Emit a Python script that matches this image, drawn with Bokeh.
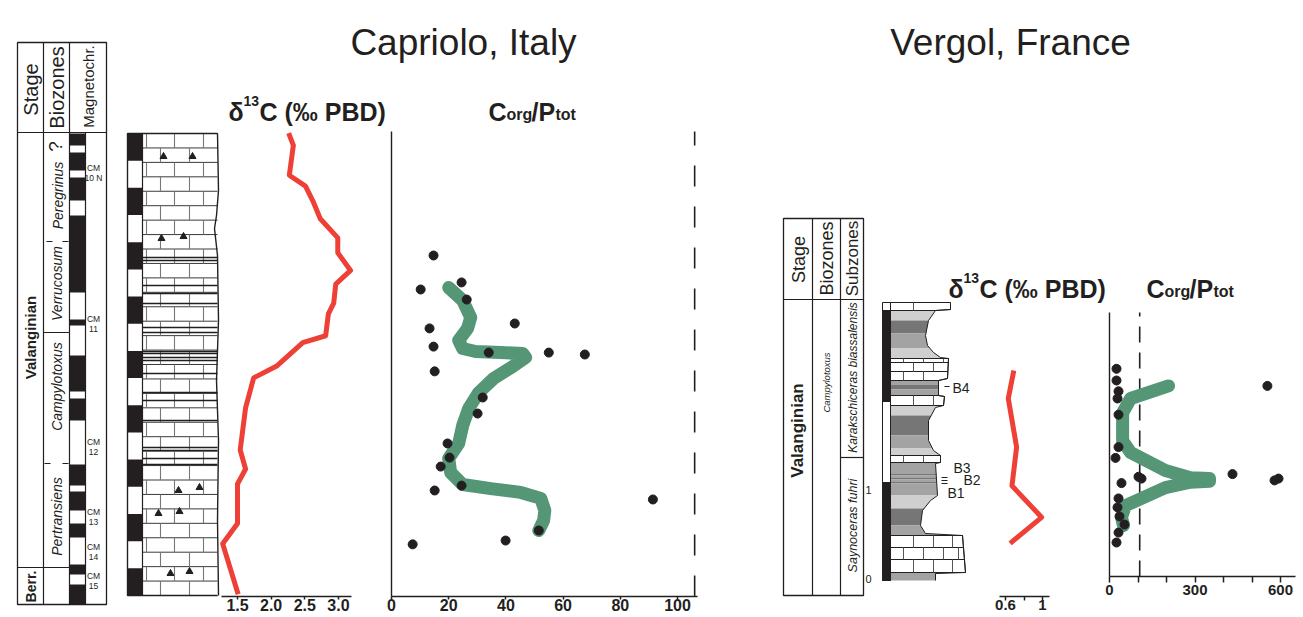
import numpy as np
from bokeh.plotting import figure
from bokeh.models import Range1d, LinearAxis, FixedTicker, CustomJSTickFormatter, NumeralTickFormatter
from bokeh.core.properties import value
from bokeh.embed import file_html
from bokeh.resources import INLINE

# ---------------- data ----------------
# Capriolo (Italy): height above base of section (m)
cap_d13c_height = [17.0, 16.55, 15.45, 15.05, 14.45, 13.85, 13.15, 12.6, 11.95, 11.45, 10.75,
                   10.35, 9.55, 9.3, 8.45, 8.0, 6.9, 5.35, 4.65, 4.1, 2.65, 1.9, 0.05]
cap_d13c = [2.26, 2.33, 2.27, 2.51, 2.63, 2.73, 2.99, 2.99, 3.18, 2.96, 2.93,
            2.85, 2.81, 2.47, 2.09, 1.74, 1.62, 1.54, 1.62, 1.50, 1.50, 1.28, 1.51]

cap_cp_height = [12.5, 11.51, 11.25, 10.88, 10.0, 9.82, 9.15, 8.93, 8.93, 8.86, 8.24,
                 7.28, 6.69, 5.59, 5.07, 4.74, 4.04, 3.86, 3.53, 2.39, 2.02, 1.88]
cap_cp = [14.7, 24.5, 10.2, 26.3, 43.1, 13.3, 14.7, 34.0, 55.0, 67.6, 15.1,
          31.9, 30.1, 19.6, 20.3, 17.2, 24.5, 15.1, 91.4, 51.5, 39.9, 7.4]

cap_trend_height = [11.32, 10.85, 10.22, 9.82, 9.38, 9.08, 8.97, 8.93, 8.90, 8.75, 8.42, 7.98,
                    7.46, 6.88, 6.25, 5.59, 5.04, 4.52, 4.08, 3.93, 3.79, 3.57, 3.13, 2.76, 2.39]
cap_trend = [20.0, 24.9, 27.7, 26.6, 23.5, 24.9, 29.4, 38.2, 45.9, 46.9, 42.4, 35.7,
             30.5, 27.0, 24.9, 23.5, 20.0, 20.7, 24.9, 34.7, 45.2, 52.2, 53.6, 53.2, 51.5]

# Vergol (France): height above base of section (m)
ver_d13c_height = [2.31, 2.0, 1.46, 1.03, 0.68, 0.39]
ver_d13c = [0.69, 0.63, 0.72, 0.67, 0.99, 0.65]

ver_cp_height = [2.33, 2.2, 2.14, 2.08, 2.0, 1.82, 1.46, 1.34, 1.16, 1.13, 1.11, 1.11, 1.09,
                 1.06, 0.89, 0.79, 0.69, 0.6, 0.51, 0.4]
ver_cp = [24.6, 24.6, 554, 31.6, 28.1, 31.6, 31.6, 21.1, 431.6, 101.8, 112.3, 593, 579,
          42.1, 31.6, 28.1, 35.1, 52.6, 31.6, 24.6]

ver_trend_height = [2.14, 2.0, 1.84, 1.53, 1.4, 1.2, 1.12, 1.11, 1.08, 1.07, 1.01, 0.81, 0.68, 0.59]
ver_trend = [207, 74, 46, 46, 74, 196, 284, 351, 351, 284, 196, 56, 42, 49]

redfield = 106

cap_d13c_ticks = [1.5, 2.0, 2.5, 3.0]
cap_cp_ticks = [0, 20, 40, 60, 80, 100]
ver_d13c_ticks = [0.6, 1.0]
ver_d13c_minor = [0.8]
ver_cp_ticks = [0, 300, 600]
ver_cp_minor = [100, 200, 400, 500]

# ---------------- figure ----------------
W, H = 1303, 617
OX, OY = 0, 0
INK = "#231f20"
RED = "#ee4036"
GREEN = "#549676"
FONT = value("Liberation Sans")

p = figure(width=W, height=H, x_range=Range1d(OX, OX + W), y_range=Range1d(OY + H, OY),
           x_axis_type=None, y_axis_type=None, output_backend="svg",
           toolbar_location=None, min_border=0, title=None)
p.outline_line_color = None


def xr(px0, v0, k):
    return Range1d(v0 + (OX - px0) / k, v0 + (OX + W - px0) / k)


def yr(py0, k):
    return Range1d((py0 - (OY + H)) / k, (py0 - OY) / k)


CAP_X0, CAP_Y0, CAP_K = 391, 595, 27.2
p.extra_x_ranges = {
    "cap_d": xr(237, 1.5, 67.3),
    "cap_c": xr(391, 0, 2.86),
    "ver_d": xr(1005, 0.6, 92.5),
    "ver_c": xr(1109, 0, 0.285),
}
p.extra_y_ranges = {"cap_h": yr(595, 27.2), "ver_h": yr(578, 90.0)}


def txt(x, y, s, size, style="normal", align="center", baseline="middle", angle=0.0):
    p.text(x=[x], y=[y], text=[s], text_font=FONT, text_font_size=f"{size}px",
           text_font_style=style, text_align=align, text_baseline=baseline,
           angle=angle, text_color=INK)


def seg(x0, y0, x1, y1, w=1.2, color=INK, dash="solid"):
    p.segment(x0=x0, y0=y0, x1=x1, y1=y1, line_color=color, line_width=w, line_dash=dash)


ROT = np.pi / 2

# ---------------- titles ----------------
txt(463, 42, "Capriolo, Italy", 37, baseline="alphabetic")
txt(1010, 42, "Vergol, France", 37, baseline="alphabetic")


def d13c_title(x, y):
    txt(x, y, "δ", 25, "bold", "left", "alphabetic")
    txt(x + 15, y - 11, "13", 14, "bold", "left", "alphabetic")
    txt(x + 31, y, "C (‰ PBD)", 25, "bold", "left", "alphabetic")


def cp_title(x, y):
    txt(x, y, "C", 25, "bold", "left", "alphabetic")
    txt(x + 18, y + 3, "org", 16, "bold", "left", "alphabetic")
    txt(x + 43, y, "/P", 25, "bold", "left", "alphabetic")
    txt(x + 67, y + 3, "tot", 16, "bold", "left", "alphabetic")


d13c_title(228, 111)
cp_title(488, 111)
d13c_title(948, 288)
cp_title(1146, 288)

# ---------------- Capriolo stratigraphic table ----------------
p.quad(left=[17], right=[106], top=[42], bottom=[604], fill_color=None, line_color=INK, line_width=1.3)
seg([43, 69, 85], [42, 42, 132], [43, 69, 85], [604, 604, 604])
seg([17, 17, 43], [132, 567, 332], [106, 69, 69], [132, 567, 332])
seg([46, 62, 44, 62], [241, 241, 463, 463], [52, 68, 50, 68], [241, 241, 463, 463])
mag_top = [133, 152, 177, 215, 319, 355, 398, 464, 491, 523, 564, 584]
mag_bot = [145, 170, 200, 292, 325, 391, 420, 485, 510, 537, 574, 604]
p.quad(left=69, right=85, top=mag_top, bottom=mag_bot, fill_color=INK, line_color=None)

txt(30, 89, "Stage", 20, angle=ROT)
txt(56, 87, "Biozones", 20, angle=ROT)
txt(88, 86, "Magnetochr.", 15, angle=ROT)
txt(30, 337, "Valanginian", 15, "bold", angle=ROT)
txt(30, 586, "Berr.", 14, "bold", angle=ROT)
txt(55, 146, "?", 19, angle=ROT)
txt(57, 195, "Peregrinus", 14, "italic", angle=ROT)
txt(56, 283, "Verrucosum", 14, "italic", angle=ROT)
txt(56, 386, "Campylotoxus", 14, "italic", angle=ROT)
txt(56, 516, "Pertransiens", 14, "italic", angle=ROT)
for (yy, a, b) in [(167, "CM", "10 N"), (318, "CM", "11"), (441, "CM", "12"),
                   (511, "CM", "13"), (546, "CM", "14"), (575, "CM", "15")]:
    txt(93, yy, a, 8.5)
    txt(93, yy + 10, b, 8.5)

# ---------------- Capriolo lithology ----------------
LT, LB = 133, 595
edges = np.linspace(LT, LB, 18)
p.quad(left=127, right=142, top=edges[:-1][::2], bottom=edges[1:][::2], fill_color=INK, line_color=None)
rows = np.linspace(LT, LB, 33)
seg([142] * 33, rows, [217] * 33, rows, w=1.0, color="#3a3a3a")
vx0, vy0, vy1 = [], [], []
for i in range(32):
    for xx in ([146, 174, 203] if i % 2 == 0 else [160, 189]):
        vx0.append(xx); vy0.append(rows[i]); vy1.append(rows[i + 1])
seg(vx0, vy0, vx0, vy1, w=1.1, color="#777777")
marl = [257, 260, 285, 293, 303, 327, 332, 351, 353, 357, 360, 373, 392, 400, 420, 447, 450, 458, 464]
seg([142] * len(marl), marl, [217] * len(marl), marl, w=1.6, color=INK)
tri_x = [163, 192, 161, 183, 178, 199, 158, 179, 170, 189]
tri_y = [156, 156, 238, 236, 490, 487, 513, 511, 573, 571]
p.scatter(tri_x, tri_y, marker="triangle", size=7, color=INK)
p.line([217, 127, 127, 217], [LT, LT, LB, LB], line_color=INK, line_width=1.4)
p.line([142, 142], [LT, LB], line_color=INK, line_width=1.2)
p.line([217, 218, 216, 214, 217, 218, 216, 218, 217, 218],
       [LT, 190, 215, 228, 255, 320, 380, 440, 520, LB], line_color=INK, line_width=1.4)

# ---------------- Capriolo d13C ----------------
p.line(cap_d13c, cap_d13c_height, x_range_name="cap_d", y_range_name="cap_h",
       line_color=RED, line_width=5, line_join="round")

# ---------------- Capriolo Corg/Ptot ----------------
ctop, cbot = (CAP_Y0 - 131) / CAP_K, (CAP_Y0 - 596) / CAP_K
p.segment(x0=[0], y0=[cbot], x1=[0], y1=[ctop], x_range_name="cap_c", y_range_name="cap_h",
          line_color=INK, line_width=1.4)
p.segment(x0=[redfield], y0=[cbot], x1=[redfield], y1=[ctop], x_range_name="cap_c",
          y_range_name="cap_h", line_color=INK, line_width=1.6, line_dash="21 20")
p.line(cap_trend, cap_trend_height, x_range_name="cap_c", y_range_name="cap_h",
       line_color=GREEN, line_width=13, line_join="round", line_cap="round")
p.scatter(cap_cp, cap_cp_height, x_range_name="cap_c", y_range_name="cap_h",
          size=9, color=INK)

# ---------------- Vergol stratigraphic table ----------------
p.quad(left=[783], right=[863], top=[218], bottom=[595], fill_color=None, line_color=INK, line_width=1.3)
seg([812, 840, 783, 840], [218, 218, 299, 457], [812, 840, 863, 863], [595, 595, 299, 457])
txt(798, 259, "Stage", 18, angle=ROT)
txt(826, 258, "Biozones", 18, angle=ROT)
txt(852, 258, "Subzones", 17, angle=ROT)
txt(797, 430, "Valanginian", 17, "bold", angle=ROT)
txt(826, 382, "Campylotoxus", 9.5, "italic", angle=ROT)
txt(852, 377, "Karakschiceras biassalensis", 12, "italic", angle=ROT)
txt(852, 525, "Saynoceras fuhri", 12.5, "italic", angle=ROT)
txt(868, 489, "1", 11)
txt(868, 578, "0", 11)

# ---------------- Vergol lithology ----------------
prof_y = np.array([302, 309, 310, 320, 335, 345, 352, 357, 358, 378, 380, 395, 396, 405, 407,
                   420, 440, 450, 455, 462, 463, 495, 500, 510, 525, 533, 535, 572, 573, 580])
prof_x = np.array([950, 950, 935, 928, 925, 927, 933, 940, 948, 947, 938, 938, 944, 943, 935,
                   928, 928, 933, 940, 940, 935, 937, 930, 922, 920, 925, 962, 965, 935, 935])
L, M, D = "#cfcfcf", "#a3a3a3", "#767676"
marl_bands = [(310, 320, L), (320, 333, D), (333, 348, M), (348, 358, L), (380, 384, M), (384, 389, D),
              (389, 395, M), (405, 415, L), (415, 435, D), (435, 448, M), (448, 455, L), (462, 473, M),
              (473, 475, D), (475, 477, M), (477, 479, D), (479, 481, M), (481, 483, D), (483, 495, M),
              (495, 508, L), (508, 525, D), (525, 535, M), (572, 580, M)]
beds = [(302, 310), (358, 362), (362, 371), (371, 380), (395, 405), (455, 462), (535, 547),
        (547, 559), (559, 572)]


def band_poly(t, b):
    ys = [t] + [float(y) for y in prof_y if t < y < b] + [b]
    xs = [float(v) for v in np.interp(ys, prof_y, prof_x)]
    return [890] + xs + [890], [t] + ys + [b]


bx, by, bc = [], [], []
for (t, b, c) in marl_bands:
    xs, ys = band_poly(t, b)
    bx.append(xs); by.append(ys); bc.append(c)
p.patches(bx, by, fill_color=bc, line_color=None)
lx, ly = [], []
for (t, b) in beds:
    xs, ys = band_poly(t, b)
    lx.append(xs); ly.append(ys)
p.patches(lx, ly, fill_color="white", line_color=INK, line_width=1.0)
bvx, bvy0, bvy1 = [], [], []
for j, (t, b) in enumerate(beds):
    lim = min(np.interp(t, prof_y, prof_x), np.interp(b, prof_y, prof_x)) - 3
    for xx in ([903, 923, 943, 958] if j % 2 else [913, 933, 952]):
        if xx < lim:
            bvx.append(xx); bvy0.append(t); bvy1.append(b)
seg(bvx, bvy0, bvx, bvy1, w=1.0, color="#555555")
p.line(list(prof_x), list(prof_y), line_color=INK, line_width=1.0)
p.quad(left=882, right=890, top=[302, 401], bottom=[580, 482], fill_color="white", line_color=INK,
       line_width=1.0)
p.quad(left=882, right=890, top=[310, 482], bottom=[401, 580], fill_color=INK, line_color=INK)
seg([890], [302], [890], [580], w=1.0)
seg([944, 941, 941, 941], [386, 477, 480, 483], [949, 947, 947, 947], [386, 477, 480, 483], w=1.0)
txt(952, 387, "B4", 14, align="left")
txt(953, 467, "B3", 14, align="left")
txt(963, 479, "B2", 14, align="left")
txt(947, 492, "B1", 14, align="left")

# ---------------- Vergol d13C ----------------
p.line(ver_d13c, ver_d13c_height, x_range_name="ver_d", y_range_name="ver_h",
       line_color=RED, line_width=5, line_join="round")

# ---------------- Vergol Corg/Ptot ----------------
vtop, vbot = (578 - 312) / 90.0, (578 - 576) / 90.0
p.segment(x0=[0], y0=[vbot], x1=[0], y1=[vtop], x_range_name="ver_c", y_range_name="ver_h",
          line_color=INK, line_width=1.4)
p.segment(x0=[redfield], y0=[vbot], x1=[redfield], y1=[vtop], x_range_name="ver_c",
          y_range_name="ver_h", line_color=INK, line_width=1.6, line_dash="16 10")
p.line(ver_trend, ver_trend_height, x_range_name="ver_c", y_range_name="ver_h",
       line_color=GREEN, line_width=13, line_join="round", line_cap="round")
p.scatter(ver_cp, ver_cp_height, x_range_name="ver_c", y_range_name="ver_h", size=9, color=INK)


# ---------------- axes ----------------
def add_axis(rng, loc, bounds, ticks, minor, size, standoff, tick_out, fmt=None):
    ax = LinearAxis(x_range_name=rng, fixed_location=loc, bounds=bounds,
                    ticker=FixedTicker(ticks=ticks, minor_ticks=minor))
    if fmt is not None:
        ax.formatter = fmt
    ax.axis_line_color = INK
    ax.axis_line_width = 1.5
    ax.major_tick_line_color = INK
    ax.major_tick_line_width = 1.5
    ax.major_tick_out = tick_out
    ax.major_tick_in = 0
    ax.minor_tick_line_color = INK
    ax.minor_tick_line_width = 1.5
    ax.minor_tick_out = tick_out
    ax.minor_tick_in = 0
    ax.major_label_text_font = "Liberation Sans"
    ax.major_label_text_font_style = "bold"
    ax.major_label_text_font_size = f"{size}px"
    ax.major_label_text_color = INK
    ax.major_label_standoff = standoff
    p.add_layout(ax, "below")


add_axis("cap_d", 596, (1.26, 3.19), cap_d13c_ticks, [], 16, -1, 3,
         NumeralTickFormatter(format="0.0"))
add_axis("cap_c", 596, (0, 107), cap_cp_ticks, [], 16, -1, 3)
add_axis("ver_d", 596, (0.53, 1.08), ver_d13c_ticks, ver_d13c_minor, 15, -1, 4,
         CustomJSTickFormatter(code="return String(Math.round(tick * 10) / 10);"))
add_axis("ver_c", 576, (0, 652), ver_cp_ticks, ver_cp_minor, 15, 2, 6)

open("out.html", "w").write(file_html(p, INLINE))
